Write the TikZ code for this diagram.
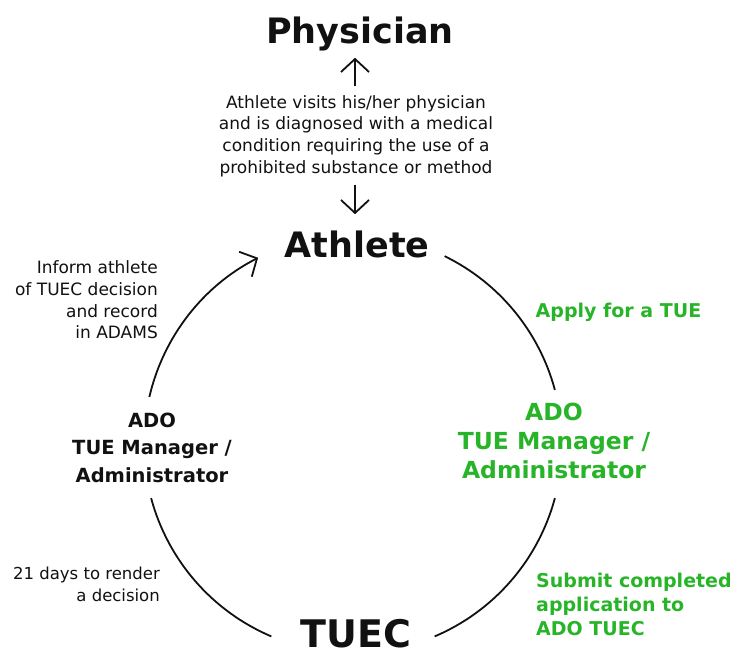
\documentclass[tikz,border=0pt]{standalone}
\usepackage{fontspec}
\setmainfont{DejaVu Sans}
\usetikzlibrary{arrows.meta}
\definecolor{tuegreen}{RGB}{40,180,40}
\definecolor{ink}{RGB}{17,17,17}
\begin{document}
\begin{tikzpicture}[x=1pt,y=-1pt,
  bighead/.style={font=\bfseries\fontsize{35}{40}\selectfont, text=ink, inner sep=0pt, anchor=base},
  note/.style={font=\fontsize{17}{21.6}\selectfont, text=ink, inner sep=0pt},
  smallnote/.style={font=\fontsize{16.5}{22}\selectfont, text=ink, inner sep=0pt},
  role/.style={font=\bfseries\fontsize{19.5}{27.5}\selectfont, text=ink, inner sep=0pt, align=center},
  grole/.style={font=\bfseries\fontsize{23.5}{29}\selectfont, text=tuegreen, inner sep=0pt, align=center},
  gnote/.style={font=\bfseries\fontsize{19}{24}\selectfont, text=tuegreen, inner sep=0pt},
  ring/.style={draw=ink, line width=1.8pt},
  arr/.style={ring, -{Straight Barb[length=13pt,width=28pt]}}
]
\useasboundingbox (0,0) rectangle (734,657);

% main labels
\node[bighead] (phys) at (360,43) {Physician};
\node[bighead] (ath) at (357,257) {Athlete};
\node[bighead, font=\bfseries\fontsize{38}{42}\selectfont] (tuec) at (356,647) {TUEC};

% description between physician and athlete
\node[note, align=center] (desc) at (356,136)
  {Athlete visits his/her physician\\and is diagnosed with a medical\\condition requiring the use of a\\prohibited substance or method};

\draw[arr] ([xshift=-1pt,yshift=9pt]desc.north) -- ([xshift=-5pt,yshift=-7pt]phys.south);
\draw[arr] ([xshift=-1pt,yshift=-8pt]desc.south) -- ([xshift=-2pt,yshift=16pt]ath.north);

% side roles
\node[role] (adoL) at (152,447.5) {ADO\\TUE Manager /\\Administrator};
\node[grole] (adoR) at (554,440.5) {ADO\\TUE Manager /\\Administrator};

% step labels
\node[note, align=right, anchor=east] (inform) at (158,300)
  {Inform athlete\\of TUEC decision\\and record\\in ADAMS};
\node[smallnote, align=right, anchor=east] (days) at (160,584)
  {21 days to render\\a decision};
\node[gnote, anchor=base] (apply) at (618.5,317) {Apply for a TUE};
\node[gnote, align=left, anchor=west] (submit) at (536,604)
  {Submit completed\\application to\\ADO TUEC};

% cycle arcs
\coordinate (hub) at (353,444);
\draw[ring] ([shift={(-64:209)}]hub) arc[start angle=-64, end angle=-15, radius=209];
\draw[ring] ([shift={(15:209)}]hub) arc[start angle=15, end angle=67, radius=209];
\draw[ring] ([shift={(113:209)}]hub) arc[start angle=113, end angle=165, radius=209];
\draw[arr] ([shift={(193:209)}]hub) arc[start angle=193, end angle=243, radius=209];
\end{tikzpicture}
\end{document}
